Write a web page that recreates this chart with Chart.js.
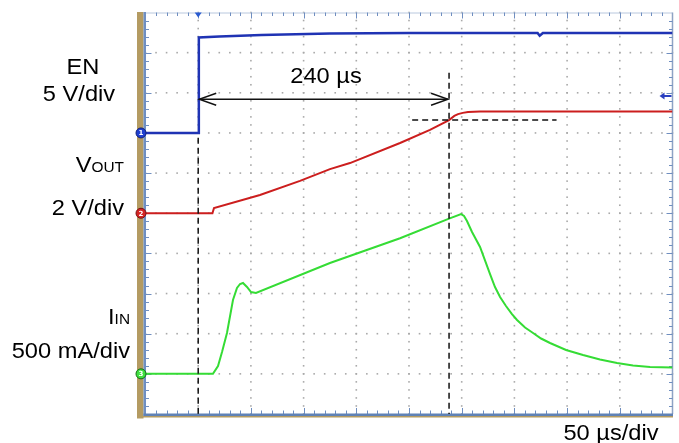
<!DOCTYPE html>
<html>
<head>
<meta charset="utf-8">
<script src="https://cdn.jsdelivr.net/npm/chart.js@4.4.1/dist/chart.umd.min.js"></script>
<style>
    html, body { margin: 0; padding: 0; background: #fff; }
    #wrap { position: relative; width: 679px; height: 443px; }
</style>
</head>
<body>
<div id="wrap"><canvas id="scope"></canvas></div>
<script>
// Time base 50 us/div, EN rising edge (trigger) one division from the left
const timeMin = -50;
const timeMax = 450;

// EN, 5 V/div
const enTime  = [-50, 0.2, 0.6, 20, 60, 125, 200, 322, 324, 327, 450];
const enVolts = [0, 0, 11.9, 12.0, 12.2, 12.4, 12.45, 12.45, 12.1, 12.45, 12.45];

// VOUT, 2 V/div
const outTime  = [-50, 13.5, 15, 58.6, 96.6, 125, 144, 191.5, 219.9, 238, 243, 246.5, 251, 256, 267.4, 450];
const outVolts = [0, 0, 0.26, 0.91, 1.61, 2.2, 2.5, 3.5, 4.15, 4.64, 4.85, 4.94, 5.0, 5.04, 5.07, 5.07];

// IIN, 500 mA/div
const inTime = [-50, 14, 18.8, 22.6, 27.3, 33, 36.8, 39.7, 42.5, 46.3, 50.1, 54.8, 125, 191.5, 238, 249.4,
    252.2, 255, 259.8, 267.4, 276.9, 281.6, 286.4, 292, 297.7, 302.5, 310.1, 317.7, 325.3, 333.8,
    349, 365.1, 381.2, 397.4, 412.5, 428.7, 450];
const inMilliamps = [0, 0, 98, 272, 509, 920, 1069, 1119, 1132, 1082, 1019, 1007, 1380, 1689, 1933, 1989,
    1966, 1904, 1767, 1580, 1243, 1081, 957, 845, 745, 671, 577, 509, 440, 384,
    297, 235, 179, 135, 104, 85, 79];

// soft-start markers (us) and the 90 % VOUT level
const markerTimes = [0, 238];
const knee = { from: 203, to: 340, volts: 4.64 };

function pairs(xs, ys) {
    return xs.map((t, i) => ({ x: t, y: ys[i] }));
}

// text with smaller "subscript" part, slightly wide like the scope export
function drawLabel(ctx, parts, x, y, align) {
    const sx = 1.1;
    let total = 0;
    parts.forEach((p) => {
        ctx.font = p[1] + "px 'Liberation Sans', Arial, sans-serif";
        total += ctx.measureText(p[0]).width * sx;
    });
    let start = x;
    if (align === "right") start = x - total;
    if (align === "center") start = x - total / 2;
    ctx.save();
    ctx.fillStyle = "#000";
    ctx.textBaseline = "alphabetic";
    ctx.textAlign = "left";
    parts.forEach((p) => {
        ctx.font = p[1] + "px 'Liberation Sans', Arial, sans-serif";
        ctx.save();
        ctx.translate(start, y);
        ctx.scale(sx, 1);
        ctx.fillText(p[0], 0, 0);
        ctx.restore();
        start += ctx.measureText(p[0]).width * sx;
    });
    ctx.restore();
}

function arrowHead(ctx, x, y, dir) {
    ctx.beginPath();
    ctx.moveTo(x + dir * 17, y - 6);
    ctx.lineTo(x, y);
    ctx.lineTo(x + dir * 17, y + 6);
    ctx.stroke();
}

const scopePlugin = {
    id: "scope",
    beforeDatasetsDraw(chart) {
        const { ctx, chartArea: a, scales } = chart;
        const x = scales.x;
        const y = scales.yOUT;
        ctx.save();

        // graticule dots
        ctx.fillStyle = "#a9a9a9";
        for (let i = 1; i < 10; i++) {
            const px = x.getPixelForValue(timeMin + i * 50);
            for (let m = 0; m <= 50; m++) {
                const py = y.getPixelForValue(-10 + m * 0.4);
                ctx.fillRect(px - 0.8, py - 0.8, 1.6, 1.6);
            }
        }
        for (let j = 1; j < 10; j++) {
            const py = y.getPixelForValue(-10 + j * 2);
            for (let k = 0; k <= 50; k++) {
                const px = x.getPixelForValue(timeMin + k * 10);
                ctx.fillRect(px - 0.8, py - 0.8, 1.6, 1.6);
            }
        }

        // frame
        ctx.strokeStyle = "#b9c8de";
        ctx.lineWidth = 1;
        ctx.beginPath();
        ctx.moveTo(a.left, a.top + 0.5);
        ctx.lineTo(a.right, a.top + 0.5);
        ctx.stroke();
        ctx.strokeStyle = "#8ea3c4";
        ctx.lineWidth = 1.5;
        ctx.beginPath();
        ctx.moveTo(a.right, a.top);
        ctx.lineTo(a.right, a.bottom);
        ctx.stroke();

        // edge ticks
        ctx.strokeStyle = "#6f8ec0";
        ctx.lineWidth = 1;
        ctx.beginPath();
        for (let k = 1; k < 50; k++) {
            const px = Math.round(x.getPixelForValue(timeMin + k * 10)) + 0.5;
            const len = k % 5 === 0 ? 6 : 3.5;
            ctx.moveTo(px, a.top);
            ctx.lineTo(px, a.top + len);
            ctx.moveTo(px, a.bottom);
            ctx.lineTo(px, a.bottom - len);
        }
        for (let m = 1; m < 50; m++) {
            const py = Math.round(y.getPixelForValue(-10 + m * 0.4)) + 0.5;
            const len = m % 5 === 0 ? 6 : 3.5;
            ctx.moveTo(a.left, py);
            ctx.lineTo(a.left + len, py);
            ctx.moveTo(a.right, py);
            ctx.lineTo(a.right - len, py);
        }
        ctx.stroke();

        // left tan bar and bottom rail
        ctx.fillStyle = "#b49b62";
        ctx.fillRect(a.left - 8.5, a.top - 0.5, 6.5, a.bottom - a.top + 5);
        ctx.fillRect(a.left - 8.5, a.bottom + 2, a.right - a.left + 9, 1.5);
        ctx.fillStyle = "#6f8fc2";
        ctx.fillRect(a.left - 2, a.top - 0.5, 2.5, a.bottom - a.top + 2.5);
        ctx.fillStyle = "#5f82b6";
        ctx.fillRect(a.left - 2, a.bottom - 0.5, a.right - a.left + 2.5, 2.5);

        // trigger position and trigger level marks
        const tx = x.getPixelForValue(0);
        ctx.fillStyle = "#2a5bd0";
        ctx.beginPath();
        ctx.moveTo(tx - 3.5, a.top);
        ctx.lineTo(tx + 3.5, a.top);
        ctx.lineTo(tx, a.top + 5);
        ctx.closePath();
        ctx.fill();
        const ly = scales.yEN.getPixelForValue(4.6);
        ctx.strokeStyle = "#2a3fc0";
        ctx.lineWidth = 2;
        ctx.beginPath();
        ctx.moveTo(a.right - 1, ly);
        ctx.lineTo(a.right - 10, ly);
        ctx.stroke();
        ctx.fillStyle = "#2a3fc0";
        ctx.beginPath();
        ctx.moveTo(a.right - 13, ly);
        ctx.lineTo(a.right - 8, ly - 3.5);
        ctx.lineTo(a.right - 8, ly + 3.5);
        ctx.closePath();
        ctx.fill();
        ctx.restore();
    },
    afterDatasetsDraw(chart) {
        const { ctx, chartArea: a, scales } = chart;
        const x = scales.x;
        ctx.save();

        // dashed timing markers
        ctx.strokeStyle = "#111";
        ctx.lineWidth = 1.5;
        ctx.setLineDash([6, 4]);
        const x0 = x.getPixelForValue(markerTimes[0]);
        const x1 = x.getPixelForValue(markerTimes[1]);
        ctx.beginPath();
        ctx.moveTo(x0, scales.yEN.getPixelForValue(-0.6));
        ctx.lineTo(x0, a.bottom);
        ctx.moveTo(x1, scales.yEN.getPixelForValue(7.5));
        ctx.lineTo(x1, a.bottom);
        const ky = scales.yOUT.getPixelForValue(knee.volts);
        ctx.moveTo(x.getPixelForValue(knee.from), ky);
        ctx.lineTo(x.getPixelForValue(knee.to), ky);
        ctx.stroke();

        // 240 us span arrow
        ctx.setLineDash([]);
        const ay = scales.yEN.getPixelForValue(4.2);
        ctx.lineWidth = 1.4;
        ctx.beginPath();
        ctx.moveTo(x0 + 1, ay);
        ctx.lineTo(x1 - 1, ay);
        ctx.stroke();
        arrowHead(ctx, x0 + 1, ay, 1);
        arrowHead(ctx, x1 - 1, ay, -1);

        // channel ground markers
        const marks = [
            [scales.yEN.getPixelForValue(0), "#1f3fd0", "#10207a", "1"],
            [scales.yOUT.getPixelForValue(0), "#d42424", "#7a1010", "2"],
            [scales.yIN.getPixelForValue(0), "#3ee03e", "#176b17", "3"],
        ];
        marks.forEach((m) => {
            ctx.beginPath();
            ctx.arc(a.left - 4.5, m[0], 5, 0, Math.PI * 2);
            ctx.fillStyle = m[1];
            ctx.fill();
            ctx.lineWidth = 1;
            ctx.strokeStyle = m[2];
            ctx.stroke();
            ctx.fillStyle = "#fff";
            ctx.font = "bold 7px 'DejaVu Sans', sans-serif";
            ctx.textAlign = "center";
            ctx.textBaseline = "middle";
            ctx.fillText(m[3], a.left - 4.5, m[0] + 0.5);
        });
        ctx.restore();

        // texts
        drawLabel(ctx, [["EN", 21.5]], 83, 74, "center");
        drawLabel(ctx, [["5 V/div", 21.5]], 79, 101, "center");
        drawLabel(ctx, [["V", 21.5], ["OUT", 14]], 124, 172, "right");
        drawLabel(ctx, [["2 V/div", 21.5]], 124, 215, "right");
        drawLabel(ctx, [["I", 21.5], ["IN", 14]], 130, 324, "right");
        drawLabel(ctx, [["500 mA/div", 21.5]], 130, 358, "right");
        drawLabel(ctx, [["240 µs", 21.5]], 326, 83, "center");
        drawLabel(ctx, [["50 µs/div", 21.5]], 611, 440, "center");
    },
};

const traceBase = {
    pointRadius: 0,
    fill: false,
    borderWidth: 2,
    tension: 0,
};

new Chart(document.getElementById("scope"), {
    type: "line",
    data: {
        datasets: [
            Object.assign({}, traceBase, {
                label: "EN",
                data: pairs(enTime, enVolts),
                borderColor: "#1f33b4",
                borderWidth: 2.5,
                yAxisID: "yEN",
            }),
            Object.assign({}, traceBase, {
                label: "VOUT",
                data: pairs(outTime, outVolts),
                borderColor: "#cc1e1e",
                yAxisID: "yOUT",
            }),
            Object.assign({}, traceBase, {
                label: "IIN",
                data: pairs(inTime, inMilliamps),
                borderColor: "#35dc35",
                yAxisID: "yIN",
            }),
        ],
    },
    options: {
        responsive: true,
        maintainAspectRatio: false,
        animation: false,
        events: [],
        layout: { padding: { left: 145.5, right: 6.5, top: 12.5, bottom: 29 } },
        plugins: { legend: { display: false }, tooltip: { enabled: false } },
        scales: {
            x: { type: "linear", min: timeMin, max: timeMax, display: false },
            yEN: { type: "linear", min: -35, max: 15, display: false },
            yOUT: { type: "linear", min: -10, max: 10, display: false },
            yIN: { type: "linear", min: -500, max: 4500, display: false },
        },
    },
    plugins: [scopePlugin],
});
</script>
</body>
</html>
